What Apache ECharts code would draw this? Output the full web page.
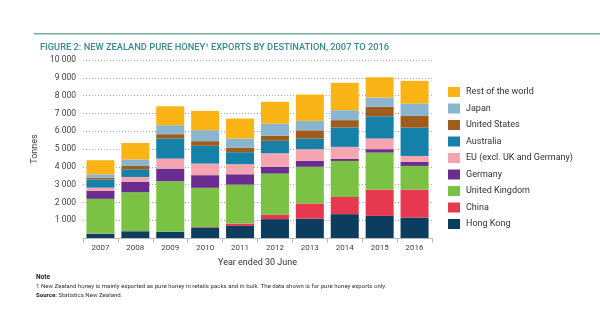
<!DOCTYPE html>
<html><head><meta charset="utf-8">
<script src="https://cdn.jsdelivr.net/npm/echarts@6/dist/echarts.min.js"></script>
<style>html,body{margin:0;padding:0;background:#fff}#c{width:600px;height:333px}</style>
</head><body><div id="c"></div>
<script>
const years = ['2007','2008','2009','2010','2011','2012','2013','2014','2015','2016'];
const yTicks = [1000,2000,3000,4000,5000,6000,7000,8000,9000,10000];
const hongKong = [230,380,350,590,680,1060,1090,1340,1240,1150];
const china    = [20,0,0,30,130,260,850,970,1480,1570];
const uk       = [1950,2190,2840,2200,2190,2300,2060,2020,2080,1330];
const germany  = [450,580,710,710,580,380,330,120,190,230];
const eu       = [180,280,560,650,570,760,660,670,600,330];
const australia= [460,430,1130,1000,670,700,600,1090,1250,1590];
const us       = [100,190,240,260,260,280,460,410,530,660];
const japan    = [190,360,510,620,510,690,530,560,520,690];
const rest     = [790,930,1060,1080,1120,1220,1480,1540,1140,1280];

const seriesDefs = [
  ['Hong Kong', hongKong, '#0d3d5e'],
  ['China', china, '#e63950'],
  ['United Kingdom', uk, '#7bc143'],
  ['Germany', germany, '#6b2c8f'],
  ['EU (excl. UK and Germany)', eu, '#f4a5b0'],
  ['Australia', australia, '#1580a8'],
  ['United States', us, '#9e5d1c'],
  ['Japan', japan, '#8ab5cf'],
  ['Rest of the world', rest, '#fbb416']
];
const chart = echarts.init(document.getElementById('c'));
const F = 'Roboto, "DejaVu Sans", sans-serif';
chart.setOption({
  animation: false,
  textStyle: {fontFamily: F},
  title: {
    text: 'FIGURE 2: NEW ZEALAND PURE HONEY\u00b9 EXPORTS BY DESTINATION, 2007 TO 2016',
    left: 35, top: 38,
    textStyle: {fontSize: 9.3, fontWeight: 500, color: '#3a8a8e', fontFamily: F}
  },
  graphic: [
    {type: 'rect', shape: {x: 34, y: 33, width: 566, height: 1.5}, style: {fill: '#7aa9aa'}},
    {type: 'text', left: 36, top: 274, style: {text: 'Note', font: 'bold 6.5px ' + F, fill: '#222'}},
    {type: 'text', left: 36, top: 283, style: {text: '1 New Zealand honey is mainly exported as pure honey in retails packs and in bulk. The data shown is for pure honey exports only.', font: '6.1px ' + F, fill: '#333'}},
    {type: 'text', left: 36, top: 292, style: {rich: {b: {font: 'bold 6.1px ' + F, fill: '#222'}, n: {font: '6.1px ' + F, fill: '#333'}}, text: '{b|Source:}{n| Statistics New Zealand.}'}}
  ],
  legend: {
    orient: 'vertical', left: 443, top: 82,
    itemWidth: 12, itemHeight: 10, itemGap: 6.5,
    data: seriesDefs.map(s => s[0]).reverse(),
    textStyle: {fontSize: 9, color: '#333', fontFamily: F, padding: [0,0,0,1]},
    icon: 'rect'
  },
  grid: {left: 83, right: 168, top: 60, bottom: 95, containLabel: false},
  xAxis: {
    type: 'category', data: years,
    name: 'Year ended 30 June', nameLocation: 'middle', nameGap: 20,
    nameTextStyle: {fontSize: 9, color: '#333'},
    axisLine: {lineStyle: {color: '#bbb'}},
    axisTick: {show: true, lineStyle: {color: '#bbb'}},
    axisLabel: {fontSize: 8, color: '#444', margin: 6}
  },
  yAxis: {
    type: 'value', min: 0, max: 10000, interval: 1000,
    name: 'Tonnes', nameLocation: 'middle', nameGap: 38, nameRotate: 90,
    nameTextStyle: {fontSize: 9, color: '#444'},
    axisLine: {show: false}, axisTick: {show: false},
    splitLine: {lineStyle: {color: '#aaa', type: [1, 2], width: 1}},
    axisLabel: {fontSize: 8.5, color: '#444', margin: 7,
      formatter: v => yTicks.includes(v) ? String(v).replace(/\B(?=(\d{3})+(?!\d))/g, ' ') : ''}
  },
  series: seriesDefs.map(s => ({
    name: s[0], type: 'bar', stack: 'all', data: s[1], barWidth: 28,
    itemStyle: {color: s[2]}
  }))
});
</script></body></html>
